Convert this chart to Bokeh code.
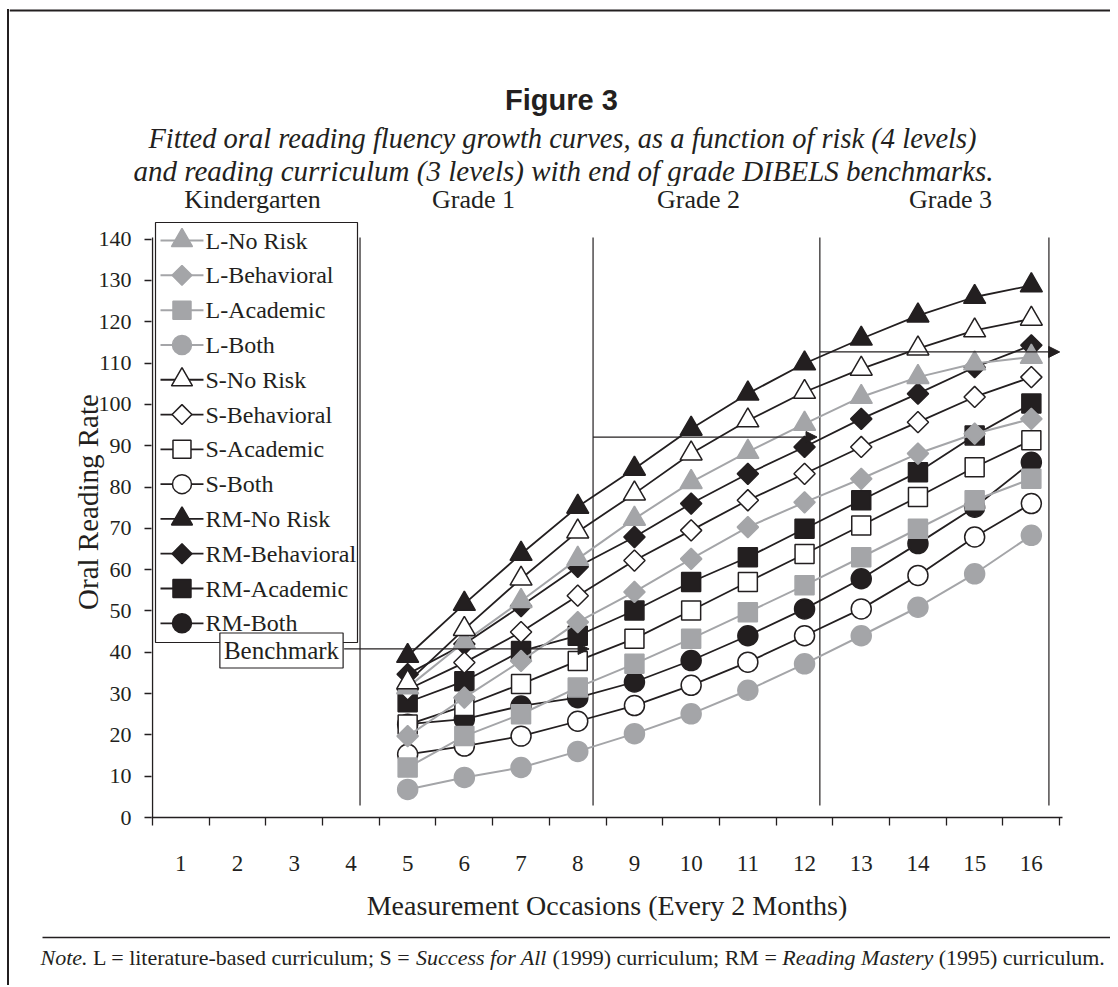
import math
from bokeh.plotting import figure
from bokeh.layouts import column, row
from bokeh.models import Label, Arrow, NormalHead, FixedTicker, Range1d, Div, Spacer
from bokeh.core.properties import value
from bokeh.embed import file_html
from bokeh.resources import INLINE

# ---------------- data ----------------
occasions = [5, 6, 7, 8, 9, 10, 11, 12, 13, 14, 15, 16]
tick_labels = [str(i) for i in range(1, 17)]

l_no_risk = [31.5, 42.5, 52.4, 62.6, 72.3, 81.2, 88.5, 95.3, 101.8, 106.6, 109.9, 111.5]
l_behavioral = [19.7, 29.0, 37.9, 47.3, 54.6, 62.6, 70.3, 76.3, 82.0, 88.1, 92.9, 96.5]
l_academic = [12.1, 19.7, 25.0, 31.5, 37.2, 43.3, 49.7, 56.2, 63.0, 69.9, 76.8, 82.0]
l_both = [6.8, 9.7, 12.1, 16.0, 20.3, 25.1, 30.8, 37.2, 44.0, 50.9, 59.0, 68.3]
s_no_risk = [32.7, 45.6, 57.8, 69.2, 78.4, 88.1, 96.1, 103.0, 108.6, 113.5, 117.9, 120.7]
s_behavioral = [31.0, 37.5, 44.9, 53.7, 62.2, 69.5, 76.8, 83.2, 89.7, 95.7, 101.8, 106.6]
s_academic = [22.5, 27.0, 32.3, 37.9, 43.3, 50.1, 57.0, 63.8, 70.7, 77.6, 84.8, 91.3]
s_both = [15.3, 17.3, 19.7, 23.3, 27.1, 32.0, 37.6, 44.0, 50.5, 58.6, 67.9, 76.0]
rm_no_risk = [39.1, 51.7, 63.8, 75.2, 84.4, 94.1, 102.6, 109.9, 115.9, 121.5, 126.0, 128.8]
rm_behavioral = [34.7, 42.0, 51.2, 60.7, 67.9, 76.0, 83.2, 89.7, 96.5, 102.6, 109.0, 114.3]
rm_academic = [27.9, 33.0, 40.3, 44.0, 50.1, 57.0, 63.0, 69.9, 76.8, 83.6, 92.5, 100.2]
rm_both = [22.6, 23.8, 27.0, 29.0, 32.8, 38.0, 44.0, 50.5, 57.8, 66.3, 75.1, 86.0]

series_names = ["L-No Risk", "L-Behavioral", "L-Academic", "L-Both",
                "S-No Risk", "S-Behavioral", "S-Academic", "S-Both",
                "RM-No Risk", "RM-Behavioral", "RM-Academic", "RM-Both"]
series_values = [l_no_risk, l_behavioral, l_academic, l_both,
                 s_no_risk, s_behavioral, s_academic, s_both,
                 rm_no_risk, rm_behavioral, rm_academic, rm_both]

grade_names = ["Kindergarten", "Grade 1", "Grade 2", "Grade 3"]
grade_label_x = [2.264, 6.162, 10.13, 14.575]
grade_bounds = [4.16, 8.27, 12.27, 16.31]
benchmarks = [40.8, 92.1, 112.7]
bench_start = [3.88, 8.27, 12.27]
bench_end = [8.2, 12.22, 16.5]

# ---------------- styles ----------------
INK = "#231f20"
GRAY = "#a4a5a8"
SERIF = "Liberation Serif"

curric_style = {
    "L": dict(line=GRAY, fill=GRAY, mline=GRAY, lw=2.0),
    "S": dict(line=INK, fill="white", mline=INK, lw=1.8),
    "RM": dict(line=INK, fill=INK, mline=INK, lw=1.8),
}
risk_marker = {
    "No Risk": dict(marker="triangle", size=22, angle=0.0),
    "Behavioral": dict(marker="square", size=15, angle=math.pi / 4),
    "Academic": dict(marker="square", size=19, angle=0.0),
    "Both": dict(marker="circle", size=20, angle=0.0),
}

LEFT_PAD = 7       # white space left of the frame line
LINE_W = 2         # frame line width
X0 = LEFT_PAD + LINE_W   # page x where the figures start
CONTENT_W = 1110 - X0
HEAD_H = 186
MAIN_H = 746
FOOT_H = 53


def deco_fig(w, h):
    f = figure(width=w, height=h, x_range=Range1d(0, w), y_range=Range1d(h, 0),
               output_backend="svg", toolbar_location=None, title=None,
               x_axis_type=None, y_axis_type=None, min_border=0)
    f.outline_line_color = None
    f.background_fill_color = "white"
    f.border_fill_color = "white"
    return f


# ---------------- header ----------------
head = deco_fig(CONTENT_W, HEAD_H)
head.quad(left=[0], right=[CONTENT_W], top=[9], bottom=[11], fill_color=INK, line_color=None)
head.add_layout(Label(x=561 - X0, y=99, text="Figure 3", text_align="center",
                      text_baseline="middle", text_font="Liberation Sans",
                      text_font_style="bold", text_font_size="29px", text_color=INK))
head.add_layout(Label(x=562 - X0, y=138,
                      text="Fitted oral reading fluency growth curves, as a function of risk (4 levels)",
                      text_align="center", text_baseline="middle", text_font=SERIF,
                      text_font_style="italic", text_font_size="28.5px", text_color=INK))
head.add_layout(Label(x=563 - X0, y=170,
                      text="and reading curriculum (3 levels) with end of grade DIBELS benchmarks.",
                      text_align="center", text_baseline="middle", text_font=SERIF,
                      text_font_style="italic", text_font_size="29px", text_color=INK))

# ---------------- main chart ----------------
p = figure(width=CONTENT_W, height=MAIN_H,
           x_range=Range1d(0.48236, 16.5494), y_range=Range1d(0, 152.75),
           output_backend="svg", toolbar_location=None, title=None,
           min_border_left=151 - X0, min_border_right=48, min_border_top=0,
           min_border_bottom=115)
p.xgrid.visible = False
p.ygrid.visible = False
p.outline_line_color = None
p.background_fill_color = "white"
p.border_fill_color = "white"

xa = p.xaxis[0]
xa.ticker = FixedTicker(ticks=list(range(1, 17)), minor_ticks=[i + 0.5 for i in range(0, 17)])
xa.major_label_overrides = {i + 1: t for i, t in enumerate(tick_labels)}
xa.major_tick_out = 0
xa.major_tick_in = 0
xa.minor_tick_out = 8
xa.minor_tick_in = 0
xa.minor_tick_line_color = INK
xa.minor_tick_line_width = 1.3
xa.axis_line_color = INK
xa.axis_line_width = 1.4
xa.major_label_standoff = 30
xa.major_label_text_font = SERIF
xa.major_label_text_font_size = "23px"
xa.major_label_text_color = INK
xa.axis_label = "Measurement Occasions (Every 2 Months)"
xa.axis_label_text_font = SERIF
xa.axis_label_text_font_size = "28px"
xa.axis_label_text_font_style = "normal"
xa.axis_label_text_color = INK
xa.axis_label_standoff = 16

ya = p.yaxis[0]
ya.ticker = FixedTicker(ticks=list(range(0, 141, 10)))
ya.major_tick_out = 7
ya.major_tick_in = 0
ya.minor_tick_line_color = None
ya.major_tick_line_color = INK
ya.major_tick_line_width = 1.3
ya.axis_line_color = None
ya.major_label_standoff = 13
ya.major_label_text_font = SERIF
ya.major_label_text_font_size = "22px"
ya.major_label_text_color = INK
ya.axis_label = "Oral Reading Rate"
ya.axis_label_text_font = SERIF
ya.axis_label_text_font_size = "29px"
ya.axis_label_text_font_style = "normal"
ya.axis_label_text_color = INK
ya.axis_label_standoff = -8

# y axis line only up to the top tick, like the original
p.segment(x0=[0.5], y0=[0], x1=[0.5], y1=[140.4], line_color=INK, line_width=1.4)

# grade boundary lines
p.segment(x0=grade_bounds, y0=[2.9] * 4, x1=grade_bounds, y1=[140.4] * 4,
          line_color=INK, line_width=1.2)

# series: RM first, then S, then L on top, S-No Risk last
draw_order = [8, 9, 10, 11, 5, 6, 7, 0, 1, 2, 3, 4]
for i in draw_order:
    cur, risk = series_names[i].split("-", 1)
    cs = curric_style[cur]
    ms = risk_marker[risk]
    p.line(occasions, series_values[i], line_color=cs["line"], line_width=cs["lw"])
    p.scatter(occasions, series_values[i], marker=ms["marker"], size=ms["size"],
              angle=ms["angle"], fill_color=cs["fill"], line_color=cs["mline"], line_width=1.5)

# benchmark arrows
for yb, x0, x1 in zip(benchmarks, bench_start, bench_end):
    p.add_layout(Arrow(end=NormalHead(size=11, fill_color=INK, line_color=INK, line_width=1),
                       x_start=x0, y_start=yb, x_end=x1, y_end=yb,
                       line_color=INK, line_width=1.3))

# legend box (drawn in the chart's coordinates so diamonds keep their shape)
LEG_LEFT, LEG_RIGHT, LEG_TOP, LEG_BOTTOM = 0.553, 4.1155, 144.03, 42.36
LEG_Y0, LEG_STEP = 139.67, 8.424
LEG_LINE_X0, LEG_LINE_X1, LEG_MARK_X, LEG_TEXT_X = 0.641, 1.399, 1.020, 1.435
p.quad(left=[LEG_LEFT], right=[LEG_RIGHT], top=[LEG_TOP], bottom=[LEG_BOTTOM],
       fill_color="white", line_color=INK, line_width=1.2)
for i, name in enumerate(series_names):
    cur, risk = name.split("-", 1)
    cs = curric_style[cur]
    ms = risk_marker[risk]
    ly = LEG_Y0 - LEG_STEP * i
    p.segment(x0=[LEG_LINE_X0], y0=[ly], x1=[LEG_LINE_X1], y1=[ly],
              line_color=cs["line"], line_width=cs["lw"])
    p.scatter([LEG_MARK_X], [ly], marker=ms["marker"], size=ms["size"] - 1, angle=ms["angle"],
              fill_color=cs["fill"], line_color=cs["mline"], line_width=1.5)
    p.text(x=[LEG_TEXT_X], y=[ly], text=[name], text_font=value(SERIF),
           text_font_size="24px", text_color=INK, text_align="left", text_baseline="middle")

p.add_layout(Label(x=2.775, y=40.43, text="Benchmark", text_align="center", text_baseline="middle",
                   text_font=SERIF, text_font_size="25px", text_color=INK,
                   border_line_color=INK, border_line_width=1.2,
                   background_fill_color="white", padding=4))

for gx, gn in zip(grade_label_x, grade_names):
    p.add_layout(Label(x=gx, y=149.6, text=gn, text_align="center", text_baseline="middle",
                       text_font=SERIF, text_font_size="26px", text_color=INK))

# ---------------- footer ----------------
foot = deco_fig(CONTENT_W, FOOT_H)
foot.quad(left=[42 - X0], right=[CONTENT_W], top=[4.25], bottom=[5.75],
          fill_color=INK, line_color=None)
note_parts = [("Note.", "italic", 40), ("L = literature-based curriculum; S =", "normal", 92.6),
              ("Success for All", "italic", 415.6), ("(1999) curriculum; RM =", "normal", 551.9),
              ("Reading Mastery", "italic", 781.8), ("(1995) curriculum.", "normal", 938.2)]
for txt, style, nx in note_parts:
    foot.add_layout(Label(x=nx - X0, y=25, text=txt, text_align="left", text_baseline="middle",
                          text_font=SERIF, text_font_style=style, text_font_size="22px",
                          text_color=INK))

# ---------------- frame line on the left (page decoration) ----------------
total_h = HEAD_H + MAIN_H + FOOT_H
left_line = column(Spacer(width=LINE_W, height=9, margin=0),
                   Div(text="", width=LINE_W, height=total_h - 9, margin=0,
                       styles={"background-color": INK}),
                   spacing=0)
# the chart sits in its own row so the header/footer canvases are not aligned to its frame
layout = row(Spacer(width=LEFT_PAD, height=total_h, margin=0), left_line,
             column(head, row(p, spacing=0), foot, spacing=0), spacing=0)
open("out.html", "w").write(file_html(layout, INLINE))
